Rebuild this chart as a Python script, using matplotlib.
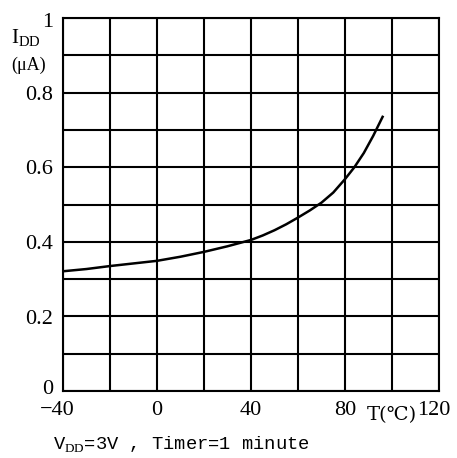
import matplotlib
matplotlib.use("Agg")
import matplotlib.pyplot as plt

# supply current vs temperature
temp_c = [-40, -30, -20, -10, 0, 10, 20, 30, 40, 45, 50, 55, 60, 65, 70,
          75, 80, 84, 88, 92, 96]
idd_ua = [0.321, 0.327, 0.335, 0.342, 0.349, 0.36, 0.373, 0.388, 0.405,
          0.417, 0.431, 0.447, 0.465, 0.484, 0.505, 0.532, 0.568, 0.6,
          0.638, 0.684, 0.735]

x_ticks = [-40, 0, 40, 80, 120]
x_tick_labels = ["\u221240", "0", "40", "80", "120"]
y_ticks = [0, 0.2, 0.4, 0.6, 0.8, 1.0]
y_tick_labels = ["0", "0.2", "0.4", "0.6", "0.8", "1"]

serif = ["Liberation Serif", "DejaVu Serif", "DejaVu Sans"]
plt.rcParams["font.family"] = serif
plt.rcParams["mathtext.fontset"] = "custom"
plt.rcParams["mathtext.rm"] = "Liberation Serif"

fig = plt.figure(figsize=(4.57, 4.58), dpi=100)
ax = fig.add_axes([63 / 457, 1 - 391 / 458, 376 / 457, 373 / 458])

ax.plot(temp_c, idd_ua, color="black", linewidth=1.8)

ax.set_xlim(-40, 120)
ax.set_ylim(0, 1)
ax.set_xticks(range(-40, 121, 20))
ax.set_yticks([i / 10 for i in range(11)])
ax.set_xticklabels([])
ax.set_yticklabels([])
ax.tick_params(length=0)
ax.grid(color="black", linewidth=1.5)
ax.set_axisbelow(True)
for sp in ax.spines.values():
    sp.set_linewidth(1.5)

# tick labels placed by hand, offsets (points) as in the original
x_shift = {-40: -4, 120: -4}
for v, lab in zip(x_ticks, x_tick_labels):
    ax.annotate(lab, (v, 0), xycoords=("data", "axes fraction"),
                xytext=(x_shift.get(v, 0), -14), textcoords="offset points",
                ha="center", va="center", fontsize=16)
y_shift = {0: 1, 1.0: -3}
for v, lab in zip(y_ticks, y_tick_labels):
    ax.annotate(lab, (0, v), xycoords=("axes fraction", "data"),
                xytext=(-7, y_shift.get(v, -2)), textcoords="offset points",
                ha="right", va="center", fontsize=16)

ax.text(-0.098, 0.945, r"I$_{\rm DD}$", transform=ax.transAxes, fontsize=15,
        ha="center", va="center")
ax.text(-0.092, 0.873, "(\u03bcA)", transform=ax.transAxes, fontsize=13,
        ha="center", va="center")
ax.text(0.875, -0.064, "T(\u2103)", transform=ax.transAxes, fontsize=14,
        ha="center", va="center", family=["DejaVu Serif", "DejaVu Sans"])

fig.text(53 / 457, 1 - 445 / 458, r"V$_{\rm DD}$=3V , Timer=1 minute",
         fontsize=13.5, ha="left", va="center",
         family=["Liberation Mono", "DejaVu Sans Mono"])

fig.savefig("out.png", dpi=100)
